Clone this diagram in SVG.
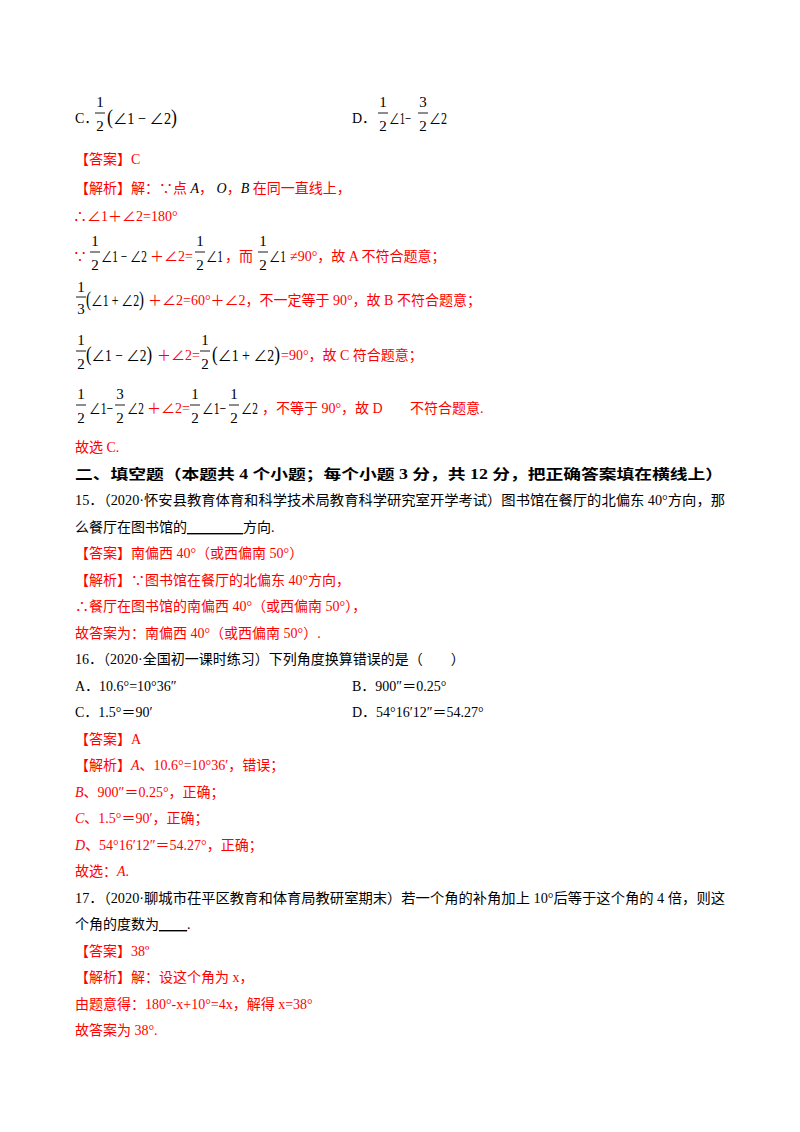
<svg xmlns="http://www.w3.org/2000/svg" width="800" height="1132" viewBox="0 0 800 1132">
<style>
text{font-family:"Liberation Serif","Noto Sans CJK SC",serif;font-size:14px;fill:#000}
.r{fill:#ff0000}
.b{font-weight:bold}
.f{font-size:15px;text-anchor:middle}
.m{font-size:16px}
.p{font-size:20px}
line{stroke:#000;stroke-width:0.9}
</style>
<rect width="800" height="1132" fill="#fff"/>
<text x="75" y="123">C．</text>
<text class="f" x="100" y="107">1</text><line x1="95" y1="113" x2="105" y2="113"/><text class="f" x="100" y="131">2</text>
<text class="m" x="107" y="124" textLength="70" lengthAdjust="spacingAndGlyphs"><tspan class="p">(</tspan>∠1 − ∠2<tspan class="p">)</tspan></text>
<text x="352" y="123">D．</text>
<text class="f" x="383" y="107">1</text><line x1="378" y1="113" x2="388" y2="113"/><text class="f" x="383" y="131">2</text>
<text class="m" x="389" y="124" textLength="22" lengthAdjust="spacingAndGlyphs">∠1−</text>
<text class="f" x="423" y="107">3</text><line x1="418" y1="113" x2="428" y2="113"/><text class="f" x="423" y="131">2</text>
<text class="m" x="429" y="124" textLength="18" lengthAdjust="spacingAndGlyphs">∠2</text>

<text class="r" x="75" y="164">【答案】C</text>
<text class="r" x="75" y="193">【解析】解：∵点 <tspan fill="#000" font-style="italic">A</tspan>，<tspan fill="#000" font-style="italic"> O</tspan>，<tspan fill="#000" font-style="italic">B</tspan> 在同一直线上，</text>
<text class="r" x="73" y="221">∴∠1＋∠2=180°</text>

<text class="r" x="73" y="261">∵</text>
<text class="f" x="95" y="246">1</text><line x1="90" y1="252" x2="100" y2="252"/><text class="f" x="95" y="270">2</text>
<text class="m" x="101" y="262" textLength="46" lengthAdjust="spacingAndGlyphs">∠1 − ∠2</text>
<text class="r" x="150" y="261">＋∠2=</text>
<text class="f" x="200" y="246">1</text><line x1="195" y1="252" x2="205" y2="252"/><text class="f" x="200" y="270">2</text>
<text class="m" x="206" y="262" textLength="17" lengthAdjust="spacingAndGlyphs">∠1</text>
<text class="r" x="225" y="261">，而</text>
<text class="f" x="263" y="246">1</text><line x1="258" y1="252" x2="268" y2="252"/><text class="f" x="263" y="270">2</text>
<text class="m" x="269" y="262" textLength="17" lengthAdjust="spacingAndGlyphs">∠1</text>
<text class="r" x="290" y="261">≠90°，故 A 不符合题意；</text>

<text class="f" x="81" y="292">1</text><line x1="76" y1="297" x2="86" y2="297"/><text class="f" x="81" y="314">3</text>
<text class="m" x="86" y="306" textLength="58" lengthAdjust="spacingAndGlyphs"><tspan class="p">(</tspan>∠1 + ∠2<tspan class="p">)</tspan></text>
<text class="r" x="148" y="305">＋∠2=60°＋∠2，不一定等于 90°，故 B 不符合题意；</text>

<text class="f" x="81" y="345">1</text><line x1="76" y1="351" x2="86" y2="351"/><text class="f" x="81" y="369">2</text>
<text class="m" x="86" y="361" textLength="66" lengthAdjust="spacingAndGlyphs"><tspan class="p">(</tspan>∠1 − ∠2<tspan class="p">)</tspan></text>
<text class="r" x="157" y="360">＋∠2=</text>
<text class="f" x="205" y="345">1</text><line x1="200" y1="351" x2="210" y2="351"/><text class="f" x="205" y="369">2</text>
<text class="m" x="212" y="361" textLength="68" lengthAdjust="spacingAndGlyphs"><tspan class="p">(</tspan>∠1 + ∠2<tspan class="p">)</tspan></text>
<text class="r" x="281" y="360">=90°，故 C 符合题意；</text>

<text class="f" x="81" y="399">1</text><line x1="76" y1="405" x2="86" y2="405"/><text class="f" x="81" y="423">2</text>
<text class="m" x="89" y="414" textLength="24" lengthAdjust="spacingAndGlyphs">∠1−</text>
<text class="f" x="120" y="399">3</text><line x1="115" y1="405" x2="125" y2="405"/><text class="f" x="120" y="423">2</text>
<text class="m" x="127" y="414" textLength="17" lengthAdjust="spacingAndGlyphs">∠2</text>
<text class="r" x="147" y="413">＋∠2=</text>
<text class="f" x="195" y="399">1</text><line x1="190" y1="405" x2="200" y2="405"/><text class="f" x="195" y="423">2</text>
<text class="m" x="202" y="414" textLength="24" lengthAdjust="spacingAndGlyphs">∠1−</text>
<text class="f" x="234" y="399">1</text><line x1="229" y1="405" x2="239" y2="405"/><text class="f" x="234" y="423">2</text>
<text class="m" x="241" y="414" textLength="17" lengthAdjust="spacingAndGlyphs">∠2</text>
<text class="r" x="262" y="413">，不等于 90°，故 D</text>
<text class="r" x="410" y="413">不符合题意.</text>

<text class="r" x="75" y="452">故选 C.</text>
<text class="b" x="75" y="479" textLength="648" lengthAdjust="spacingAndGlyphs">二、填空题（本题共 4 个小题；每个小题 3 分，共 12 分，把正确答案填在横线上）</text>
<text x="75" y="505" textLength="650" lengthAdjust="spacingAndGlyphs">15．（2020·怀安县教育体育和科学技术局教育科学研究室开学考试）图书馆在餐厅的北偏东 40°方向，那</text>
<text x="75" y="532">么餐厅在图书馆的<tspan text-decoration="underline">________</tspan>方向.</text>
<text class="r" x="75" y="558">【答案】南偏西 40°（或西偏南 50°）</text>
<text class="r" x="75" y="585">【解析】∵图书馆在餐厅的北偏东 40°方向，</text>
<text class="r" x="75" y="611">∴餐厅在图书馆的南偏西 40°（或西偏南 50°），</text>
<text class="r" x="75" y="638">故答案为：南偏西 40°（或西偏南 50°）.</text>
<text x="75" y="664">16．（2020·全国初一课时练习）下列角度换算错误的是（　　）</text>
<text x="75" y="691">A．10.6°=10°36″</text>
<text x="352" y="691">B．900″＝0.25°</text>
<text x="75" y="717">C．1.5°＝90′</text>
<text x="352" y="717">D．54°16′12″＝54.27°</text>
<text class="r" x="75" y="744">【答案】A</text>
<text class="r" x="75" y="770">【解析】<tspan font-style="italic">A</tspan>、10.6°=10°36′，错误；</text>
<text class="r" x="75" y="797"><tspan font-style="italic">B</tspan>、900″＝0.25°，正确；</text>
<text class="r" x="75" y="823"><tspan font-style="italic">C</tspan>、1.5°＝90′，正确；</text>
<text class="r" x="75" y="850"><tspan font-style="italic">D</tspan>、54°16′12″＝54.27°，正确；</text>
<text class="r" x="75" y="876">故选：<tspan font-style="italic">A</tspan>.</text>
<text x="75" y="903" textLength="650" lengthAdjust="spacingAndGlyphs">17．（2020·聊城市茌平区教育和体育局教研室期末）若一个角的补角加上 10°后等于这个角的 4 倍，则这</text>
<text x="75" y="929">个角的度数为<tspan text-decoration="underline">____</tspan>.</text>
<text class="r" x="75" y="956">【答案】38º</text>
<text class="r" x="75" y="982">【解析】解：设这个角为 x，</text>
<text class="r" x="75" y="1009">由题意得：180°-x+10°=4x，解得 x=38°</text>
<text class="r" x="75" y="1035">故答案为 38°.</text>
</svg>
